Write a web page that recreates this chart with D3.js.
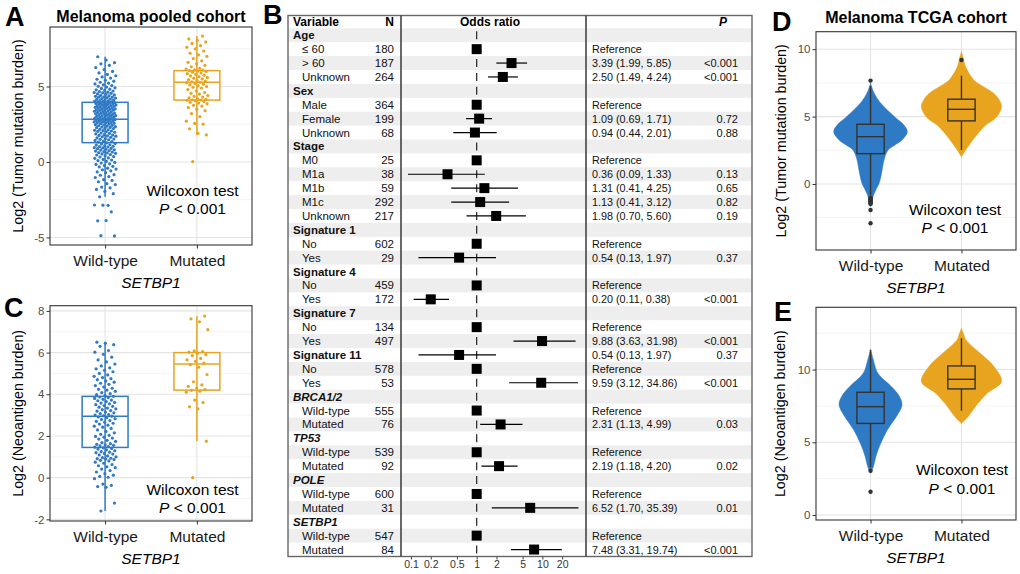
<!DOCTYPE html>
<html>
<head>
<meta charset="utf-8">
<script src="https://d3js.org/d3.v7.min.js"></script>
<style>
  body { margin: 0; background: #fff; }
  text { font-family: "Liberation Sans", Arial, Helvetica, sans-serif; }
</style>
</head>
<body>
<svg id="fig" width="1020" height="574"></svg>
<script>
// ---------------- data ----------------
const groups = ["Wild-type", "Mutated"];
const groupColors = ["#2f7ac4", "#e8a41e"];

// A: log2 tumor mutation burden, pooled cohort (jittered dots)
const tmbPooledWT = [-4.88,-4.9,-3.88,-3.9,-3.3,-2.86,-2.85,-2.87,
 -2.31,-2.1,-1.95,-1.82,-1.71,-1.66,-1.5,-1.44,-1.31,-1.22,-1.17,-1.03,-0.97,-0.88,-0.84,-0.71,-0.66,-0.59,-0.52,-0.47,-0.41,-0.33,-0.29,-0.24,-0.16,-0.12,-0.07,-0.03,
 0.04,0.09,0.13,0.17,0.24,0.27,0.33,0.36,0.41,0.46,0.49,0.53,0.57,0.6,0.62,0.66,0.69,0.72,0.75,0.79,0.81,0.84,0.88,0.9,0.93,0.95,0.99,1.01,1.04,1.07,1.12,1.14,1.19,1.22,1.26,
 1.31,1.35,1.38,1.43,1.47,1.5,1.52,1.55,1.59,1.63,1.67,1.71,1.73,1.76,1.78,1.81,1.86,1.89,1.92,1.97,2.0,2.03,2.05,2.07,2.1,2.13,2.16,2.21,2.24,2.27,2.29,2.31,2.34,2.37,2.4,2.43,2.45,2.47,2.5,2.53,2.56,2.58,2.59,2.61,2.64,2.66,2.67,2.7,2.72,2.74,2.75,2.77,2.79,2.8,2.82,
 2.85,2.87,2.88,2.9,2.92,2.95,2.97,3.0,3.02,3.03,3.05,3.07,3.1,3.12,3.14,3.17,3.19,3.2,3.22,3.24,3.27,3.29,3.31,3.34,3.36,3.38,3.41,3.43,3.44,3.46,3.48,3.5,3.52,3.55,3.57,3.58,3.6,3.62,3.64,3.67,3.69,3.71,3.72,3.74,3.76,3.78,3.8,3.83,3.85,3.86,3.87,3.9,3.92,3.93,3.94,
 3.97,3.99,4.02,4.04,4.05,4.07,4.09,4.12,4.14,4.17,4.2,4.23,4.26,4.29,4.3,4.32,4.35,4.38,4.41,4.44,4.48,4.51,4.55,4.58,4.6,4.62,4.66,4.7,4.74,4.78,4.82,4.87,4.91,4.96,5.01,5.06,5.11,5.17,5.22,5.28,5.35,5.41,5.48,5.56,5.63,5.71,5.8,5.9,6.0,6.12,6.25,6.4,6.5,6.58,6.75,6.97];
const tmbPooledMut = [0.02,1.79,1.9,2.2,2.5,2.55,2.7,3.0,3.2,3.4,3.5,3.6,3.7,3.75,3.85,3.9,3.95,4.0,4.05,4.08,4.1,4.12,4.15,4.2,4.25,4.3,4.35,4.4,4.5,4.55,4.6,4.7,4.8,4.9,4.95,5.0,5.05,5.1,5.15,5.2,5.25,5.28,5.3,5.35,5.4,5.45,5.5,5.55,5.6,5.65,5.7,5.75,5.8,5.85,5.9,5.95,6.0,6.02,6.05,6.08,6.1,6.15,6.2,6.3,6.4,6.5,6.6,6.7,6.85,7.0,7.1,7.2,7.35,7.5,7.6,7.7,7.85,7.95,8.05,8.15,8.34];
// box stats per group: [lower whisker, q1, median, q3, upper whisker]
const tmbPooledBox = [[-2.3, 1.28, 2.83, 3.95, 6.97], [1.79, 4.1, 5.28, 6.05, 8.34]];

// C: log2 neoantigen burden, pooled cohort
const neoPooledWT = [-1.6,-1.22,-0.46,-0.43,-0.37,-0.31,-0.05,0.02,0.06,0.12,0.19,0.27,0.34,0.41,0.48,0.52,0.57,0.63,0.69,0.74,0.8,0.83,0.87,0.9,0.91,0.93,0.96,1.0,1.04,1.09,1.13,1.16,1.2,1.22,1.25,1.29,1.33,1.37,1.4,1.43,1.46,1.49,1.52,1.55,1.57,1.6,1.63,1.68,1.74,1.79,1.85,1.9,1.94,1.98,2.03,2.08,2.15,2.22,2.29,2.36,2.42,2.47,2.52,2.57,2.61,2.66,2.7,2.74,2.79,2.83,2.88,2.91,2.95,2.97,3.0,3.03,3.07,3.11,3.15,3.19,3.22,3.26,3.3,3.34,3.38,3.42,3.46,3.5,3.54,3.58,3.61,3.65,3.69,3.72,3.76,3.8,3.84,3.87,3.9,3.94,3.98,4.03,4.08,4.14,4.2,4.24,4.29,4.35,4.42,4.48,4.53,4.58,4.64,4.7,4.75,4.8,4.86,4.93,5.0,5.08,5.15,5.22,5.27,5.36,5.45,5.55,5.65,5.78,5.92,6.02,6.1,6.3,6.38,6.45,6.5];
const neoPooledMut = [0.0,1.75,3.3,3.4,3.6,3.72,4.1,4.15,4.19,4.23,4.3,4.38,4.45,4.6,4.95,5.3,5.42,5.5,5.58,5.65,5.72,5.85,5.9,5.97,6.02,6.05,6.08,7.1,7.48,7.62,7.75];
const neoPooledBox = [[-1.6, 1.45, 2.95, 3.9, 6.5], [1.75, 4.2, 5.45, 6.0, 7.75]];

// D: TCGA tumor mutation burden, violin profiles [value, relative width]
const tmbTcgaViolinWT = [[7.5,0],[7.1,0.04],[6.73,0.09],[6.1,0.22],[5.49,0.41],[4.9,0.62],[4.5,0.78],[3.88,0.9],[3.27,0.77],[2.9,0.6],[2.52,0.43],[1.78,0.33],[0.79,0.27],[0.05,0.21],[-0.57,0.11],[-0.94,0.06],[-1.43,0.025],[-1.7,0]];
const tmbTcgaViolinMut = [[9.82,0],[9.3,0.05],[8.71,0.1],[7.72,0.3],[7.2,0.55],[6.73,0.79],[6.2,0.93],[5.74,0.98],[5.0,0.87],[4.25,0.55],[3.51,0.34],[2.77,0.16],[2.03,0]];
const tmbTcgaBox = [[-0.82, 2.25, 3.51, 4.43, 7.27], [2.52, 4.68, 5.54, 6.29, 8.04]];
const tmbTcgaOutWT = [7.67,-1.02,-1.08,-1.13,-1.19,-1.25,-1.31,-1.36,-1.42,-1.48,-1.93,-2.92];
const tmbTcgaOutMut = [9.2];

// E: TCGA neoantigen burden
const neoTcgaViolinWT = [[11.4,0],[10.66,0.07],[9.74,0.18],[8.83,0.51],[8.14,0.71],[7.57,0.77],[6.76,0.63],[5.85,0.41],[4.93,0.25],[4.01,0.13],[3.32,0.07],[2.87,0]];
const neoTcgaViolinMut = [[12.84,0],[12.4,0.06],[12.04,0.11],[11.12,0.46],[10.2,0.8],[9.17,0.98],[8.37,0.63],[7.45,0.34],[6.76,0.16],[6.3,0]];
const neoTcgaBox = [[3.3, 6.3, 7.45, 8.44, 11.35], [7.17, 8.67, 9.33, 10.25, 12.15]];
const neoTcgaOutWT = [3.05, 1.6];
const neoTcgaOutMut = [];

// B: multivariable logistic regression table
const fpLabel = ["Age","\u2264 60","> 60","Unknown","Sex","Male","Female","Unknown","Stage","M0","M1a","M1b","M1c","Unknown",
  "Signature 1","No","Yes","Signature 4","No","Yes","Signature 7","No","Yes","Signature 11","No","Yes",
  "BRCA1/2","Wild-type","Mutated","TP53","Wild-type","Mutated","POLE","Wild-type","Mutated","SETBP1","Wild-type","Mutated"];
// g = group heading, gi = italic (gene) heading, i = item
const fpKind = ["g","i","i","i","g","i","i","i","g","i","i","i","i","i","g","i","i","g","i","i","g","i","i","g","i","i",
  "gi","i","i","gi","i","i","gi","i","i","gi","i","i"];
const fpN = ["",180,187,264,"",364,199,68,"",25,38,59,292,217,"",602,29,"",459,172,"",134,497,"",578,53,
  "",555,76,"",539,92,"",600,31,"",547,84];
const fpOR = [null,1,3.39,2.50,null,1,1.09,0.94,null,1,0.36,1.31,1.13,1.98,null,1,0.54,null,1,0.20,null,1,9.88,0.54,1,9.59,
  null,1,2.31,null,1,2.19,null,1,6.52,null,1,7.48];
const fpLo = [null,null,1.99,1.49,null,null,0.69,0.44,null,null,0.09,0.41,0.41,0.70,null,null,0.13,null,null,0.11,null,null,3.63,0.13,null,3.12,
  null,null,1.13,null,null,1.18,null,null,1.70,null,null,3.31];
const fpHi = [null,null,5.85,4.24,null,null,1.71,2.01,null,null,1.33,4.25,3.12,5.60,null,null,1.97,null,null,0.38,null,null,31.98,1.97,null,34.86,
  null,null,4.99,null,null,4.20,null,null,35.39,null,null,19.74];
const fpText = ["","Reference","3.39 (1.99, 5.85)","2.50 (1.49, 4.24)","","Reference","1.09 (0.69, 1.71)","0.94 (0.44, 2.01)",
  "","Reference","0.36 (0.09, 1.33)","1.31 (0.41, 4.25)","1.13 (0.41, 3.12)","1.98 (0.70, 5.60)",
  "","Reference","0.54 (0.13, 1.97)","","Reference","0.20 (0.11, 0.38)","","Reference","9.88 (3.63, 31.98)",
  "0.54 (0.13, 1.97)","Reference","9.59 (3.12, 34.86)","","Reference","2.31 (1.13, 4.99)","","Reference","2.19 (1.18, 4.20)",
  "","Reference","6.52 (1.70, 35.39)","","Reference","7.48 (3.31, 19.74)"];
const fpP = ["","","<0.001","<0.001","","","0.72","0.88","","","0.13","0.65","0.82","0.19","","","0.37","","","<0.001","","","<0.001",
  "0.37","","<0.001","","","0.03","","","0.02","","","0.01","","","<0.001"];
const fpTicks = [0.1, 0.2, 0.5, 1, 2, 5, 10, 20];

// ---------------- drawing ----------------
const svg = d3.select("#fig");
svg.append("rect").attr("width", 1020).attr("height", 574).attr("fill", "#fff");

// spread the dots sideways (stand-in for geom_jitter)
function jitter(i, w) {
  const f = (i * 0.6180339887 + 0.31) % 1;
  return (f - 0.5) * 2 * w;
}

function panelBase(cfg) {
  const g = svg.append("g");
  const x = d3.scalePoint().domain(groups).range([cfg.x0, cfg.x1]).padding(0.6);
  const y = d3.scaleLinear().domain(cfg.domain).range([cfg.yBot, cfg.yTop]);
  g.append("g").selectAll("line").data(cfg.minor).join("line")
    .attr("x1", cfg.x0).attr("x2", cfg.x1).attr("y1", d => y(d)).attr("y2", d => y(d))
    .attr("stroke", "#ededed").attr("stroke-width", 0.6);
  g.append("g").selectAll("line").data(cfg.ticks).join("line")
    .attr("x1", cfg.x0).attr("x2", cfg.x1).attr("y1", d => y(d)).attr("y2", d => y(d))
    .attr("stroke", "#e4e4e4").attr("stroke-width", 1.1);
  g.append("g").selectAll("line").data(groups).join("line")
    .attr("x1", d => x(d)).attr("x2", d => x(d)).attr("y1", cfg.yTop).attr("y2", cfg.yBot)
    .attr("stroke", "#e4e4e4").attr("stroke-width", 1.1);
  return { g, x, y };
}

function panelFrame(p, cfg) {
  const { g, x, y } = p;
  g.append("rect").attr("x", cfg.x0).attr("y", cfg.yTop)
    .attr("width", cfg.x1 - cfg.x0).attr("height", cfg.yBot - cfg.yTop)
    .attr("fill", "none").attr("stroke", "#333").attr("stroke-width", 1.1);
  const ya = g.append("g").attr("transform", `translate(${cfg.x0},0)`)
    .call(d3.axisLeft(y).tickValues(cfg.ticks).tickSize(3.5).tickPadding(2).tickFormat(d => String(d)));
  const xa = g.append("g").attr("transform", `translate(0,${cfg.yBot})`)
    .call(d3.axisBottom(x).tickSize(3.5).tickPadding(6.5));
  [ya, xa].forEach(a => {
    a.attr("font-family", null).attr("font-size", null);
    a.select(".domain").remove();
    a.selectAll(".tick line").attr("stroke", "#333");
  });
  ya.selectAll(".tick text").attr("fill", "#4d4d4d").style("font-size", "11.5px");
  xa.selectAll(".tick text").attr("fill", "#1a1a1a").style("font-size", "15.5px");

  g.append("text").attr("transform", `translate(${cfg.yTitleX + 5},${(cfg.yTop + cfg.yBot) / 2}) rotate(-90)`)
    .attr("text-anchor", "middle").style("font-size", "14.3px").text(cfg.yTitle);
  g.append("text").attr("x", (cfg.x0 + cfg.x1) / 2).attr("y", cfg.yBot + 43)
    .attr("text-anchor", "middle").style("font-size", "15.5px").style("font-style", "italic").text("SETBP1");
  if (cfg.title) {
    g.append("text").attr("x", (cfg.x0 + cfg.x1) / 2).attr("y", cfg.titleY)
      .attr("text-anchor", "middle").style("font-size", "16px").style("font-weight", "bold").text(cfg.title);
  }
  g.append("text").attr("x", cfg.x0 + cfg.statX).attr("y", y(cfg.statY))
    .attr("text-anchor", "middle").style("font-size", "15.5px").text("Wilcoxon test");
  const pt = g.append("text").attr("x", cfg.x0 + cfg.statX).attr("y", y(cfg.statY) + 18.5)
    .attr("text-anchor", "middle").style("font-size", "15.5px");
  pt.append("tspan").style("font-style", "italic").text("P");
  pt.append("tspan").text(" < 0.001");
  svg.append("text").attr("x", cfg.letter[1]).attr("y", cfg.letter[2])
    .style("font-size", "27px").style("font-weight", "bold").text(cfg.letter[0]);
}

function boxDotPanel(cfg) {
  const p = panelBase(cfg);
  const { g, x, y } = p;
  const bw = x.step() * 0.5;
  cfg.box.forEach((s, k) => {
    const cx = x(groups[k]), col = groupColors[k];
    g.append("line").attr("x1", cx).attr("x2", cx).attr("y1", y(s[0])).attr("y2", y(s[1]))
      .attr("stroke", col).attr("stroke-width", 1.5);
    g.append("line").attr("x1", cx).attr("x2", cx).attr("y1", y(s[3])).attr("y2", y(s[4]))
      .attr("stroke", col).attr("stroke-width", 1.5);
    g.append("rect").attr("x", cx - bw / 2).attr("width", bw).attr("y", y(s[3])).attr("height", y(s[1]) - y(s[3]))
      .attr("fill", "#fff").attr("stroke", col).attr("stroke-width", 1.5);
    g.append("line").attr("x1", cx - bw / 2).attr("x2", cx + bw / 2).attr("y1", y(s[2])).attr("y2", y(s[2]))
      .attr("stroke", col).attr("stroke-width", 1.5);
    g.append("line").attr("x1", cx).attr("x2", cx).attr("y1", y(s[1])).attr("y2", y(s[3]))
      .attr("stroke", col).attr("stroke-width", 1.5);
  });
  cfg.dots.forEach((vals, k) => {
    const cx = x(groups[k]);
    g.append("g").selectAll("circle").data(vals).join("circle")
      .attr("cx", (d, i) => cx + jitter(i, 11)).attr("cy", d => y(d)).attr("r", 1.6)
      .attr("fill", groupColors[k]);
  });
  panelFrame(p, cfg);
}

function violinPanel(cfg) {
  const p = panelBase(cfg);
  const { g, x, y } = p;
  const hw = x.step() * 0.45, bw = x.step() * 0.3;
  cfg.violins.forEach((prof, k) => {
    const cx = x(groups[k]), s = cfg.box[k];
    const area = d3.area().curve(d3.curveCatmullRom)
      .y(d => y(d[0])).x0(d => cx - d[1] * hw).x1(d => cx + d[1] * hw);
    g.append("path").attr("d", area(prof)).attr("fill", groupColors[k]).attr("stroke", groupColors[k]).attr("stroke-width", 0.5);
    g.append("line").attr("x1", cx).attr("x2", cx).attr("y1", y(s[0])).attr("y2", y(s[4]))
      .attr("stroke", "#333").attr("stroke-width", 1.4);
    g.append("rect").attr("x", cx - bw / 2).attr("width", bw).attr("y", y(s[3])).attr("height", y(s[1]) - y(s[3]))
      .attr("fill", groupColors[k]).attr("stroke", "#333").attr("stroke-width", 1.4);
    g.append("line").attr("x1", cx - bw / 2).attr("x2", cx + bw / 2).attr("y1", y(s[2])).attr("y2", y(s[2]))
      .attr("stroke", "#333").attr("stroke-width", 1.4);
    g.append("g").selectAll("circle").data(cfg.outliers[k]).join("circle")
      .attr("cx", cx).attr("cy", d => y(d)).attr("r", 2.2).attr("fill", "#333");
  });
  panelFrame(p, cfg);
}

boxDotPanel({
  x0: 50, x1: 252, yTop: 27, yBot: 245, domain: [-5.5, 8.94],
  ticks: [-5, 0, 5], minor: [-2.5, 2.5, 7.5],
  dots: [tmbPooledWT, tmbPooledMut], box: tmbPooledBox,
  yTitle: "Log2 (Tumor mutation burden)", yTitleX: 18.3,
  title: "Melanoma pooled cohort", titleY: 21.5,
  statX: 142.5, statY: -2.25, letter: ["A", 5, 26]
});
boxDotPanel({
  x0: 50, x1: 252, yTop: 305.7, yBot: 521, domain: [-2.08, 8.25],
  ticks: [-2, 0, 2, 4, 6, 8], minor: [-1, 1, 3, 5, 7],
  dots: [neoPooledWT, neoPooledMut], box: neoPooledBox,
  yTitle: "Log2 (Neoantigen burden)", yTitleX: 18,
  statX: 142.5, statY: -0.83, letter: ["C", 4, 317]
});
violinPanel({
  x0: 816, x1: 1016, yTop: 31.7, yBot: 250, domain: [-4.9, 11.3],
  ticks: [0, 5, 10], minor: [-2.5, 2.5, 7.5],
  violins: [tmbTcgaViolinWT, tmbTcgaViolinMut], box: tmbTcgaBox, outliers: [tmbTcgaOutWT, tmbTcgaOutMut],
  yTitle: "Log2 (Tumor mutation burden)", yTitleX: 780.8,
  title: "Melanoma TCGA cohort", titleY: 22.5,
  statX: 139, statY: -2.3, letter: ["D", 772, 31]
});
violinPanel({
  x0: 816, x1: 1016, yTop: 307.3, yBot: 520, domain: [-0.34, 14.28],
  ticks: [0, 5, 10], minor: [2.5, 7.5, 12.5],
  violins: [neoTcgaViolinWT, neoTcgaViolinMut], box: neoTcgaBox, outliers: [neoTcgaOutWT, neoTcgaOutMut],
  yTitle: "Log2 (Neoantigen burden)", yTitleX: 780,
  statX: 146, statY: 2.75, letter: ["E", 774, 321]
});

// ---------- B: forest table ----------
const tb = { x0: 288, x1: 752, top: 15.5, head: 28.3, rowH: 13.9, div1: 401, div2: 586 };
tb.bottom = tb.head + fpLabel.length * tb.rowH;
const fx = d3.scaleLog().domain([0.0705, 46.1]).range([tb.div1, tb.div2]);
const rowY = i => tb.head + (i + 0.5) * tb.rowH;
const fg = svg.append("g");

fg.append("g").selectAll("rect").data(fpLabel.map((d, i) => i).filter(i => i % 2 === 0)).join("rect")
  .attr("x", tb.x0).attr("width", tb.x1 - tb.x0)
  .attr("y", i => tb.head + i * tb.rowH).attr("height", tb.rowH).attr("fill", "#eeeeee");

fg.append("line").attr("x1", fx(1)).attr("x2", fx(1)).attr("y1", tb.head).attr("y2", tb.bottom)
  .attr("stroke", "#222").attr("stroke-width", 1.2)
  .attr("stroke-dasharray", "8 5.9").attr("stroke-dashoffset", 10.95);

const idx = fpLabel.map((d, i) => i);
fg.append("g").selectAll("line").data(idx.filter(i => fpLo[i] != null)).join("line")
  .attr("x1", i => fx(fpLo[i])).attr("x2", i => fx(fpHi[i]))
  .attr("y1", i => rowY(i)).attr("y2", i => rowY(i))
  .attr("stroke", "#000").attr("stroke-width", 1.2);
fg.append("g").selectAll("rect").data(idx.filter(i => fpOR[i] != null)).join("rect")
  .attr("x", i => fx(fpOR[i]) - 5).attr("y", i => rowY(i) - 5)
  .attr("width", 10).attr("height", 10).attr("fill", "#000");

const rows = fg.append("g").style("font-size", "11.5px").attr("fill", "#111");
rows.selectAll("text.lab").data(idx).join("text").attr("class", "lab")
  .attr("x", i => fpKind[i] === "i" ? 302 : 293).attr("y", i => rowY(i) + 4)
  .style("font-weight", i => fpKind[i] === "i" ? null : "bold")
  .style("font-style", i => fpKind[i] === "gi" ? "italic" : null)
  .text(i => fpLabel[i]);
rows.selectAll("text.n").data(idx).join("text").attr("class", "n")
  .attr("x", 394).attr("y", i => rowY(i) + 4).attr("text-anchor", "end").text(i => fpN[i]);
rows.selectAll("text.or").data(idx).join("text").attr("class", "or")
  .attr("x", 592).attr("y", i => rowY(i) + 4).style("font-size", "10.8px").text(i => fpText[i]);
rows.selectAll("text.p").data(idx).join("text").attr("class", "p")
  .attr("x", 738).attr("y", i => rowY(i) + 4).attr("text-anchor", "end").style("font-size", "11px").text(i => fpP[i]);

const hd = fg.append("g").style("font-size", "12px").style("font-weight", "bold");
hd.append("text").attr("x", 293).attr("y", 26).text("Variable");
hd.append("text").attr("x", 394).attr("y", 26).attr("text-anchor", "end").text("N");
hd.append("text").attr("x", 490).attr("y", 26).attr("text-anchor", "middle").text("Odds ratio");
hd.append("text").attr("x", 727).attr("y", 26).attr("text-anchor", "end").style("font-style", "italic").text("P");

fg.append("rect").attr("x", tb.x0).attr("y", tb.top).attr("width", tb.x1 - tb.x0).attr("height", tb.bottom - tb.top)
  .attr("fill", "none").attr("stroke", "#666").attr("stroke-width", 1.4);
[tb.div1, tb.div2].forEach(xv => fg.append("line").attr("x1", xv).attr("x2", xv).attr("y1", tb.top).attr("y2", tb.bottom)
  .attr("stroke", "#444").attr("stroke-width", 1.6));

const fa = fg.append("g").attr("transform", `translate(0,${tb.bottom})`)
  .call(d3.axisBottom(fx).tickValues(fpTicks).tickFormat(d => String(d)).tickSize(3).tickPadding(1.5));
fa.attr("font-family", null).attr("font-size", null);
fa.select(".domain").remove();
fa.selectAll(".tick line").attr("stroke", "#444");
fa.selectAll(".tick text").attr("fill", "#333").style("font-size", "10.5px");

svg.append("text").attr("x", 263).attr("y", 24).style("font-size", "27px").style("font-weight", "bold").text("B");
</script>
</body>
</html>
